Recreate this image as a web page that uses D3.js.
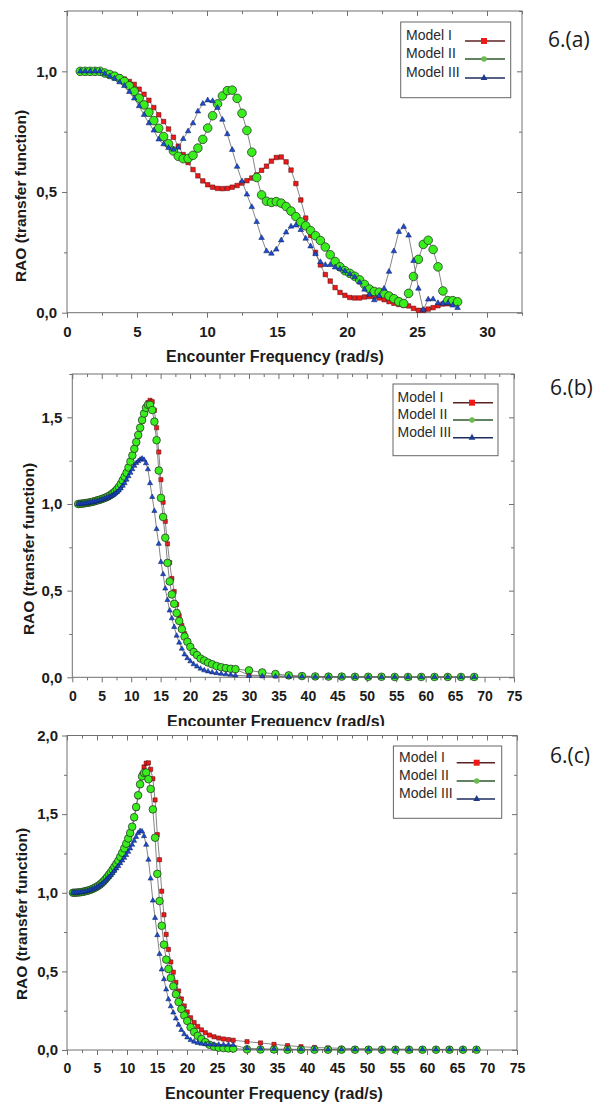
<!DOCTYPE html>
<html><head><meta charset="utf-8">
<script src="https://cdn.jsdelivr.net/npm/d3@7"></script>
<style>body{margin:0;background:#fff}svg{display:block}</style>
</head><body>
<svg id="chart" width="607" height="1103"></svg>
<script>
// ---------------- DATA ----------------
const seriesNames = ["Model I", "Model II", "Model III"];
const panelLabels = ["6.(a)", "6.(b)", "6.(c)"];
const xTitle = "Encounter Frequency (rad/s)";
const yTitle = "RAO (transfer function)";

const xTicksA = [0, 5, 10, 15, 20, 25, 30];
const xMinorA = [2.5, 7.5, 12.5, 17.5, 22.5, 27.5, 32.5];
const xTicksBC = [0, 5, 10, 15, 20, 25, 30, 35, 40, 45, 50, 55, 60, 65, 70, 75];
const xMinorBC = [2.5, 7.5, 12.5, 17.5, 22.5, 27.5, 32.5, 37.5, 42.5, 47.5, 52.5, 57.5, 62.5, 67.5, 72.5];
const yTicksA = [0, 0.5, 1.0];
const yMinorA = [0.25, 0.75, 1.25];
const yTicksB = [0, 0.5, 1.0, 1.5];
const yMinorB = [0.25, 0.75, 1.25, 1.75];
const yTicksC = [0, 0.5, 1.0, 1.5, 2.0];
const yMinorC = [0.25, 0.75, 1.25, 1.75];

// Panel (a)
const freqA = [0.95,1.30,1.65,2.00,2.35,2.70,3.05,3.40,3.75,4.10,4.45,4.80,5.15,5.50,5.85,6.20,6.55,6.90,7.25,7.60,7.95,8.30,8.65,9.00,9.35,9.70,10.05,10.40,10.75,11.10,11.45,11.80,12.15,12.50,12.85,13.20,13.55,13.90,14.25,14.60,14.95,15.30,15.65,16.00,16.35,16.70,17.05,17.40,17.75,18.10,18.45,18.80,19.15,19.50,19.85,20.20,20.55,20.90,21.25,21.60,21.95,22.30,22.65,23.00,23.35,23.70,24.05,24.40,24.75,25.10,25.45,25.80,26.15,26.50,26.85,27.20,27.55,27.90];
const raoA_model1 = [1.00,1.00,1.00,1.00,1.00,0.995,0.99,0.985,0.977,0.968,0.958,0.946,0.926,0.905,0.88,0.85,0.82,0.792,0.761,0.727,0.69,0.655,0.622,0.593,0.567,0.546,0.53,0.52,0.515,0.514,0.515,0.52,0.527,0.537,0.547,0.558,0.571,0.59,0.607,0.628,0.643,0.645,0.625,0.591,0.535,0.467,0.392,0.32,0.25,0.198,0.158,0.131,0.104,0.084,0.072,0.063,0.061,0.061,0.065,0.067,0.066,0.061,0.054,0.046,0.039,0.034,0.031,0.028,0.018,0.01,0.01,0.015,0.021,0.029,0.036,0.037,0.038,0.05];
const raoA_model2 = [1.00,1.00,1.00,1.00,1.00,0.993,0.987,0.98,0.97,0.958,0.94,0.917,0.889,0.861,0.83,0.796,0.764,0.73,0.70,0.67,0.648,0.638,0.639,0.652,0.682,0.718,0.765,0.816,0.865,0.898,0.92,0.922,0.888,0.826,0.755,0.665,0.56,0.488,0.462,0.457,0.46,0.454,0.44,0.421,0.398,0.376,0.36,0.34,0.319,0.299,0.272,0.24,0.212,0.19,0.174,0.163,0.151,0.136,0.117,0.098,0.088,0.085,0.079,0.069,0.058,0.046,0.038,0.08,0.15,0.221,0.283,0.30,0.262,0.19,0.09,0.05,0.05,0.045];
const raoA_model3 = [1.00,1.00,1.00,1.00,1.00,0.99,0.98,0.97,0.955,0.94,0.915,0.888,0.856,0.82,0.785,0.755,0.718,0.698,0.683,0.676,0.684,0.72,0.752,0.785,0.834,0.866,0.88,0.877,0.849,0.80,0.74,0.675,0.605,0.545,0.49,0.438,0.376,0.31,0.255,0.245,0.262,0.30,0.333,0.357,0.362,0.343,0.307,0.275,0.243,0.21,0.198,0.198,0.188,0.182,0.172,0.16,0.148,0.126,0.096,0.075,0.052,0.07,0.10,0.17,0.255,0.335,0.356,0.32,0.215,0.10,0.012,0.055,0.056,0.04,0.038,0.04,0.03,0.02];

// Panels (b) and (c) share the frequency points
const freqBC = [1.0,1.3,1.6,1.9,2.2,2.5,2.8,3.1,3.4,3.7,4.0,4.3,4.6,4.9,5.2,5.5,5.8,6.1,6.4,6.7,7.0,7.3,7.6,7.9,8.22,8.55,8.88,9.21,9.54,9.87,10.2,10.53,10.86,11.19,11.52,11.85,12.18,12.51,12.84,13.2,13.57,13.94,14.31,14.68,15.05,15.42,15.79,16.16,16.53,16.9,17.3,17.72,18.15,18.6,19.06,19.54,20.04,20.6,21.18,21.78,22.4,23.05,23.75,24.5,25.28,26.08,26.9,27.7,30.0,32.25,34.5,36.75,39.0,41.25,43.5,45.75,48.0,50.25,52.5,54.75,57.0,59.25,61.5,63.75,66.0,68.25];

const raoB_model1 = [1.0,1.001,1.002,1.003,1.005,1.006,1.008,1.01,1.012,1.015,1.018,1.021,1.024,1.027,1.031,1.035,1.039,1.044,1.05,1.057,1.065,1.074,1.085,1.098,
  1.114,1.134,1.155,1.177,1.206,1.24,1.275,1.312,1.35,1.39,1.432,1.476,1.515,1.56,1.585,
  1.598,1.59,1.54,1.44,1.30,1.14,1.01,0.9,0.77,0.662,0.57,
  0.495,0.42,0.355,0.3,0.252,0.212,0.18,
  0.152,0.13,0.108,0.096,0.085,
  0.074,0.064,0.057,0.052,0.048,0.046,
  0.013,0.01,0.008,0.006,0.005,0.004,0.004,0.003,0.003,0.003,0.003,0.002,0.002,0.002,0.002,0.002,0.002,0.002];
const raoB_model2 = [1.0,1.001,1.002,1.003,1.005,1.006,1.008,1.01,1.012,1.015,1.018,1.021,1.024,1.027,1.031,1.035,1.039,1.044,1.05,1.057,1.065,1.074,1.085,1.098,
  1.115,1.136,1.158,1.18,1.21,1.245,1.28,1.318,1.357,1.398,1.44,1.484,1.522,1.555,1.572,
  1.572,1.542,1.475,1.368,1.193,1.035,0.925,0.805,0.66,0.553,0.478,
  0.424,0.371,0.325,0.278,0.235,0.205,0.175,
  0.146,0.128,0.108,0.097,0.085,
  0.075,0.065,0.058,0.053,0.049,0.047,
  0.04,0.028,0.019,0.011,0.007,0.005,0.004,0.004,0.003,0.003,0.003,0.002,0.002,0.002,0.002,0.002,0.002,0.002];
const raoB_model3 = [1.0,1.0,1.001,1.002,1.003,1.004,1.006,1.008,1.01,1.012,1.015,1.017,1.02,1.023,1.026,1.03,1.034,1.038,1.043,1.048,1.054,1.061,1.069,1.078,
  1.09,1.105,1.12,1.14,1.16,1.18,1.2,1.22,1.236,1.247,1.256,1.262,1.255,1.235,1.2,
  1.12,1.04,0.96,0.855,0.77,0.665,0.595,0.512,0.446,0.385,0.34,
  0.29,0.24,0.2,0.165,0.132,0.11,0.092,
  0.075,0.062,0.05,0.04,0.034,
  0.028,0.024,0.02,0.017,0.014,0.011,
  0.008,0.006,0.005,0.004,0.004,0.003,0.003,0.003,0.002,0.002,0.002,0.002,0.002,0.002,0.002,0.002,0.002,0.002];

const raoC_model1 = [1.0,1.0,1.001,1.002,1.003,1.005,1.007,1.01,1.013,1.016,1.02,1.025,1.031,1.037,1.044,1.052,1.062,1.073,1.086,1.1,1.115,1.13,1.147,1.165,
  1.182,1.2,1.224,1.25,1.278,1.308,1.34,1.374,1.413,1.472,1.536,1.61,1.682,1.755,1.80,
  1.824,1.826,1.785,1.725,1.59,1.37,1.21,1.01,0.86,0.735,0.64,
  0.56,0.495,0.43,0.375,0.325,0.28,0.242,
  0.205,0.175,0.15,0.128,0.11,
  0.095,0.084,0.076,0.07,0.066,0.062,
  0.053,0.045,0.036,0.028,0.021,0.016,0.013,0.011,0.009,0.008,0.007,0.006,0.005,0.005,0.004,0.004,0.004,0.003];
const raoC_model2 = [1.0,1.0,1.001,1.002,1.003,1.005,1.007,1.01,1.013,1.016,1.02,1.025,1.031,1.037,1.044,1.052,1.062,1.073,1.086,1.1,1.115,1.13,1.147,1.165,
  1.183,1.203,1.228,1.254,1.282,1.312,1.345,1.38,1.42,1.48,1.545,1.62,1.69,1.74,1.762,
  1.765,1.722,1.66,1.53,1.35,1.12,0.947,0.79,0.67,0.575,0.515,
  0.458,0.405,0.355,0.305,0.26,0.22,0.185,
  0.145,0.115,0.09,0.07,0.05,
  0.033,0.022,0.015,0.012,0.01,0.009,
  0.004,0.003,0.003,0.002,0.002,0.002,0.002,0.002,0.002,0.002,0.002,0.002,0.002,0.002,0.002,0.002,0.002,0.002];
const raoC_model3 = [1.0,1.0,1.0,1.001,1.002,1.004,1.006,1.008,1.011,1.014,1.018,1.022,1.027,1.033,1.04,1.047,1.056,1.066,1.077,1.09,1.1,1.112,1.125,1.14,
  1.155,1.17,1.188,1.205,1.222,1.24,1.26,1.282,1.305,1.33,1.355,1.38,1.393,1.39,1.36,
  1.305,1.21,1.09,0.95,0.84,0.73,0.61,0.512,0.45,0.385,0.322,
  0.278,0.238,0.2,0.16,0.127,0.1,0.08,
  0.063,0.053,0.045,0.04,0.037,
  0.035,0.034,0.034,0.034,0.033,0.032,
  0.01,0.008,0.006,0.005,0.004,0.004,0.003,0.003,0.003,0.003,0.003,0.003,0.003,0.003,0.003,0.003,0.003,0.003];

// ---------------- DRAWING ----------------
const svg = d3.select("#chart");
svg.append("rect").attr("width", 607).attr("height", 1103).attr("fill", "#fff");

const FONT = "'Liberation Sans', Arial, Helvetica, sans-serif";
const styles = [
  {type: "square",   fill: "#ee1a1a", stroke: "#4d0000", legendLine: "#5c2222", legendFill: "#ee1a1a"},
  {type: "circle",   fill: "#3aee1e", stroke: "#2a3a2a", legendLine: "#2e5a2e", legendFill: "#6cba50"},
  {type: "triangle", fill: "#1c4cd0", stroke: "#0b1a55", legendLine: "#1c2c5e", legendFill: "#1f3c8c"}
];
const fmtY = d => d3.format(".1f")(d).replace(".", ",");

function drawPanel(p) {
  if (p.bg) svg.append("rect").attr("x", 0).attr("y", p.bg[0]).attr("width", 607).attr("height", p.bg[1]).attr("fill", "#fff");
  const g = svg.append("g");
  const x = d3.scaleLinear().domain([0, p.xMax]).range([p.L, p.R]);
  const y = d3.scaleLinear().domain([0, p.yMax]).range([p.B, p.T]);
  const tickCol = "#707070";
  const style = (s, fs) => {
    s.select(".domain").remove();
    s.selectAll("line").attr("stroke", tickCol).attr("stroke-width", 1);
    s.selectAll("text").attr("fill", "#1b1b1b").attr("font-family", FONT)
      .attr("font-size", fs).attr("font-weight", "bold");
  };
  const add = (tr, axis, fs) => g.append("g").attr("transform", tr).call(axis).call(s => style(s, fs));
  add(`translate(0,${p.B})`, d3.axisBottom(x).tickValues(p.xTicks).tickSize(5).tickPadding(p.xPad).tickFormat(d3.format("d")), p.xFs);
  add(`translate(0,${p.B})`, d3.axisBottom(x).tickValues(p.xMinor).tickSize(3).tickFormat(""), p.xFs);
  add(`translate(0,${p.T})`, d3.axisTop(x).tickValues(p.xTicks).tickSize(-5).tickFormat(""), p.xFs);
  add(`translate(0,${p.T})`, d3.axisTop(x).tickValues(p.xMinor).tickSize(-3).tickFormat(""), p.xFs);
  add(`translate(${p.L},0)`, d3.axisLeft(y).tickValues(p.yTicks).tickSize(5).tickPadding(p.yPad).tickFormat(fmtY), p.yFs);
  add(`translate(${p.L},0)`, d3.axisLeft(y).tickValues(p.yMinor).tickSize(3).tickFormat(""), p.yFs);
  add(`translate(${p.R},0)`, d3.axisRight(y).tickValues(p.yTicks).tickSize(-5).tickFormat(""), p.yFs);
  add(`translate(${p.R},0)`, d3.axisRight(y).tickValues(p.yMinor).tickSize(-3).tickFormat(""), p.yFs);

  g.append("rect").attr("x", p.L).attr("y", p.T).attr("width", p.R - p.L).attr("height", p.B - p.T)
    .attr("fill", "none").attr("stroke", tickCol).attr("stroke-width", 1);

  p.series.forEach((vals, i) => {
    const st = styles[i];
    const pts = p.freq.map((f, k) => [f, vals[k]]);
    g.append("path").datum(pts)
      .attr("d", d3.line().x(d => x(d[0])).y(d => y(d[1])))
      .attr("fill", "none").attr("stroke", "#666").attr("stroke-width", 0.8);
    const mg = g.append("g");
    if (st.type === "circle") {
      mg.selectAll("circle").data(pts).join("circle")
        .attr("cx", d => x(d[0])).attr("cy", d => y(d[1])).attr("r", p.circleR)
        .attr("fill", st.fill).attr("stroke", st.stroke).attr("stroke-width", 0.8);
    } else {
      const sym = st.type === "square"
        ? d3.symbol().type(d3.symbolSquare).size(p.sq * p.sq)
        : d3.symbol().type(d3.symbolTriangle).size(p.tri * p.tri * Math.sqrt(3) / 4);
      mg.selectAll("path").data(pts).join("path")
        .attr("transform", d => `translate(${x(d[0])},${y(d[1])})`)
        .attr("d", sym).attr("fill", st.fill).attr("stroke", st.stroke).attr("stroke-width", 0.5);
    }
  });

  // legend
  const lg = p.legend;
  g.append("rect").attr("x", lg.x).attr("y", lg.y).attr("width", lg.w).attr("height", lg.h)
    .attr("fill", "#fff").attr("stroke", "#666").attr("stroke-width", 1);
  seriesNames.forEach((name, i) => {
    const st = styles[i];
    const by = lg.base[i];
    g.append("text").attr("x", lg.tx).attr("y", by).text(name)
      .attr("font-family", FONT).attr("font-size", 14).attr("fill", "#2a2a2a");
    g.append("line").attr("x1", lg.l1).attr("x2", lg.l2).attr("y1", by + 1).attr("y2", by + 1)
      .attr("stroke", st.legendLine).attr("stroke-width", 1.6);
    if (st.type === "circle") {
      g.append("circle").attr("cx", lg.mx).attr("cy", by + 1).attr("r", 2.8).attr("fill", st.legendFill);
    } else {
      const sym = st.type === "square"
        ? d3.symbol().type(d3.symbolSquare).size(36)
        : d3.symbol().type(d3.symbolTriangle).size(20);
      g.append("path").attr("transform", `translate(${lg.mx},${by + 1})`).attr("d", sym).attr("fill", st.legendFill);
    }
  });

  // panel label
  g.append("text").attr("x", p.label.x).attr("y", p.label.y).text(p.labelText)
    .attr("font-family", "'Open Sans', 'Noto Sans', sans-serif").attr("font-size", 21).attr("fill", "#1a1a1a");

  // axis titles
  g.append("text").attr("transform", `translate(${p.yTitle.x},${p.yTitle.y}) rotate(-90)`)
    .attr("text-anchor", "middle").attr("dy", "0.35em").text(yTitle)
    .attr("font-family", FONT).attr("font-size", 15.5).attr("font-weight", "bold").attr("fill", "#1b1b1b");
  g.append("text").attr("x", p.xTitle.x).attr("y", p.xTitle.y).attr("text-anchor", "middle").text(xTitle)
    .attr("font-family", FONT).attr("font-size", 16).attr("font-weight", "bold").attr("fill", "#1b1b1b");
}

drawPanel({
  L: 67, R: 522, T: 11, B: 312.7, xMax: 32.5, yMax: 1.25,
  xTicks: xTicksA, xMinor: xMinorA, yTicks: yTicksA, yMinor: yMinorA,
  xPad: 9, xFs: 15, yPad: 5, yFs: 15,
  freq: freqA, series: [raoA_model1, raoA_model2, raoA_model3],
  circleR: 4.3, sq: 4.5, tri: 5.6,
  legend: {x: 400.7, y: 22, w: 110, h: 75.7, tx: 406, base: [40, 58, 77], l1: 465, l2: 505, mx: 484},
  labelText: panelLabels[0], label: {x: 548, y: 47},
  yTitle: {x: 20.7, y: 196}, xTitle: {x: 275, y: 362}
});
drawPanel({
  L: 72.3, R: 514, T: 374, B: 677.3, xMax: 75, yMax: 1.75,
  xTicks: xTicksBC, xMinor: xMinorBC, yTicks: yTicksB, yMinor: yMinorB,
  xPad: 9, xFs: 14, yPad: 5, yFs: 15,
  freq: freqBC, series: [raoB_model1, raoB_model2, raoB_model3],
  circleR: 3.8, sq: 4.2, tri: 5.2,
  legend: {x: 393, y: 384, w: 105, h: 71.7, tx: 397.5, base: [401.7, 419, 436.7], l1: 453, l2: 493, mx: 472},
  labelText: panelLabels[1], label: {x: 550, y: 395},
  yTitle: {x: 28.9, y: 549}, xTitle: {x: 276, y: 726.5}
});
drawPanel({
  bg: [726, 377],
  L: 67, R: 517, T: 735.5, B: 1050, xMax: 75, yMax: 2.0,
  xTicks: xTicksBC, xMinor: xMinorBC, yTicks: yTicksC, yMinor: yMinorC,
  xPad: 8, xFs: 14, yPad: 4, yFs: 15,
  freq: freqBC, series: [raoC_model1, raoC_model2, raoC_model3],
  circleR: 3.8, sq: 4.2, tri: 5.2,
  legend: {x: 393.4, y: 746, w: 108.3, h: 72.3, tx: 399, base: [761.7, 780, 798], l1: 456.7, l2: 495, mx: 476.7},
  labelText: panelLabels[2], label: {x: 550, y: 763},
  yTitle: {x: 21.7, y: 914}, xTitle: {x: 274, y: 1098.5}
});
</script>
</body></html>
